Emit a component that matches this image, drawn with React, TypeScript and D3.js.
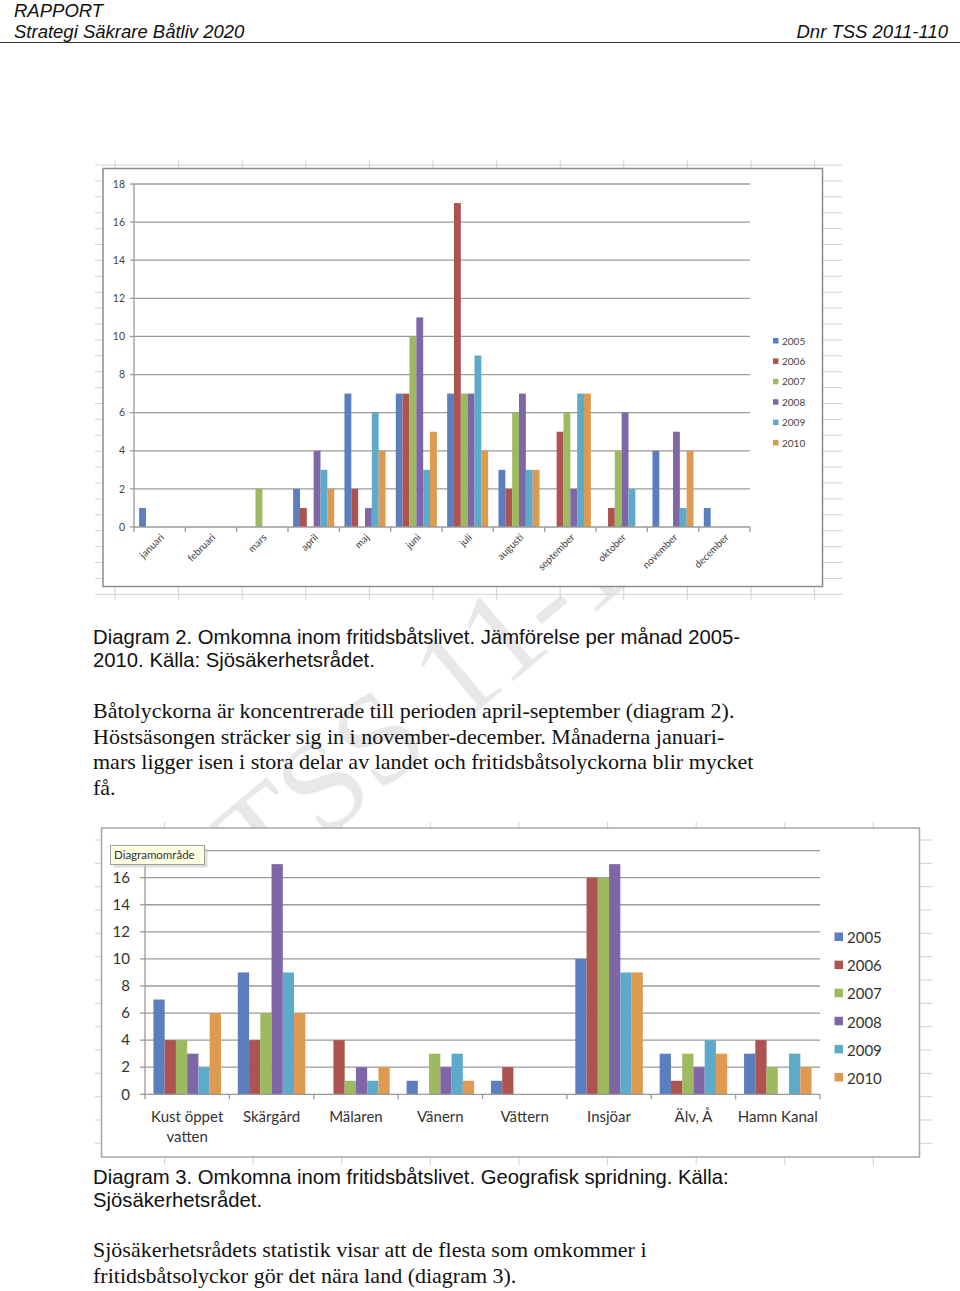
import React from 'react';
import * as d3 from 'd3';

// series shared by both charts
const years = ['2005', '2006', '2007', '2008', '2009', '2010'];
const yearColors = ['#5b7ebf', '#ad5450', '#9cba60', '#7f66a6', '#5eaacb', '#dd9a50'];

// Diagram 2 - per month
const months = ['januari', 'februari', 'mars', 'april', 'maj', 'juni', 'juli', 'augusti', 'september', 'oktober', 'november', 'december'];
const month2005 = [1, 0, 0, 2, 7, 7, 7, 3, 0, 0, 4, 1];
const month2006 = [0, 0, 0, 1, 2, 7, 17, 2, 5, 1, 0, 0];
const month2007 = [0, 0, 2, 0, 0, 10, 7, 6, 6, 4, 0, 0];
const month2008 = [0, 0, 0, 4, 1, 11, 7, 7, 2, 6, 5, 0];
const month2009 = [0, 0, 0, 3, 6, 3, 9, 3, 7, 2, 1, 0];
const month2010 = [0, 0, 0, 2, 4, 5, 4, 3, 7, 0, 4, 0];
const monthTicks = [0, 2, 4, 6, 8, 10, 12, 14, 16, 18];

// Diagram 3 - per area
const areas = ['Kust öppet vatten', 'Skärgård', 'Mälaren', 'Vänern', 'Vättern', 'Insjöar', 'Älv, Å', 'Hamn Kanal'];
const areaLabels = [['Kust öppet', 'vatten'], ['Skärgård'], ['Mälaren'], ['Vänern'], ['Vättern'], ['Insjöar'], ['Älv, Å'], ['Hamn Kanal']];
const area2005 = [7, 9, 0, 1, 1, 10, 3, 3];
const area2006 = [4, 4, 4, 0, 2, 16, 1, 4];
const area2007 = [4, 6, 1, 3, 0, 16, 3, 2];
const area2008 = [3, 17, 2, 2, 0, 17, 2, 0];
const area2009 = [2, 9, 1, 3, 0, 9, 4, 3];
const area2010 = [6, 6, 2, 1, 0, 9, 3, 2];
const areaTicks = [0, 2, 4, 6, 8, 10, 12, 14, 16];

const monthSeries = [month2005, month2006, month2007, month2008, month2009, month2010];
const areaSeries = [area2005, area2006, area2007, area2008, area2009, area2010];

const chartFont = 'Lato, "Open Sans", sans-serif';
const sansFont = '"Liberation Sans", Arial, sans-serif';
const serifFont = '"Liberation Serif", "Times New Roman", serif';
const gridColor = '#9a9a9a';

// faint spreadsheet cells around an embedded chart
function SheetGrid({ x0, y0, x1, y1, vx, hy }: { x0: number; y0: number; x1: number; y1: number; vx: number[]; hy: number[] }) {
  return (
    <g stroke="#d2d2d2" strokeWidth={1}>
      {vx
        .filter((x) => x >= x0 && x <= x1)
        .map((x) => (
          <line key={'v' + x} x1={x} x2={x} y1={y0} y2={y1} />
        ))}
      {hy
        .filter((y) => y >= y0 && y <= y1)
        .map((y) => (
          <line key={'h' + y} x1={x0} x2={x1} y1={y} y2={y} />
        ))}
    </g>
  );
}

const App: React.FC = () => {
  // ---- chart 1 scales
  const x1 = d3.scaleBand<string>().domain(months).range([134, 750]);
  const y1 = d3.scaleLinear().domain([0, 18]).range([527, 184]);
  const bw1 = x1.bandwidth();
  const inner1 = d3.scaleBand<string>().domain(years).range([bw1 * 0.1, bw1 * 0.9]);

  // ---- chart 2 scales
  const x2 = d3.scaleBand<string>().domain(areas).range([145, 820]);
  const y2 = d3.scaleLinear().domain([0, 18]).range([1094.3, 850.6]);
  const bw2 = x2.bandwidth();
  const inner2 = d3.scaleBand<string>().domain(years).range([bw2 * 0.1, bw2 * 0.9]);

  const wmStart: [number, number] = [262, 892];

  return (
    <svg width={960} height={1291} style={{ position: 'absolute', left: 0, top: 0, background: '#fff' }}>
      {/* header */}
      <g fontFamily={sansFont} fontStyle="italic" fontSize={18.5} fill="#111">
        <text x={14} y={17}>RAPPORT</text>
        <text x={14} y={38}>Strategi Säkrare Båtliv 2020</text>
        <text x={948} y={38} textAnchor="end">Dnr TSS 2011-110</text>
      </g>
      <line x1={0} x2={960} y1={42.5} y2={42.5} stroke="#333" strokeWidth={1} />

      {/* watermark */}
      <text
        x={wmStart[0]}
        y={wmStart[1]}
        transform={`rotate(-40 ${wmStart[0]} ${wmStart[1]})`}
        fontFamily={serifFont}
        fontSize={130}
        fill="#e8e8e8"
      >
        TSS 11-110
      </text>

      {/* ================= chart 1 ================= */}
      <SheetGrid x0={95} y0={160} x1={842} y1={600} vx={d3.range(115, 842, 63.6)} hy={d3.range(165, 600, 15.9)} />
      <rect x={103} y={168.5} width={719.5} height={418} fill="#fff" stroke="#8c8c8c" strokeWidth={1.5} />

      <g>
        {monthTicks.map((t) => (
          <g key={t}>
            {t > 0 && <line x1={134} x2={750} y1={y1(t)} y2={y1(t)} stroke={gridColor} strokeWidth={1.3} />}
            <line x1={130} x2={134} y1={y1(t)} y2={y1(t)} stroke={gridColor} strokeWidth={1.3} />
            <text x={125} y={y1(t)} dy="0.35em" textAnchor="end" fontFamily={chartFont} fontSize={10.5} fill="#444">
              {t}
            </text>
          </g>
        ))}
        <line x1={134} x2={134} y1={y1(18)} y2={y1(0)} stroke={gridColor} strokeWidth={1.3} />

        {months.map((m, i) => (
          <g key={m} transform={`translate(${x1(m)},0)`}>
            {monthSeries.map((s, k) =>
              s[i] > 0 ? (
                <rect
                  key={k}
                  x={inner1(years[k])}
                  y={y1(s[i])}
                  width={inner1.bandwidth()}
                  height={y1(0) - y1(s[i])}
                  fill={yearColors[k]}
                />
              ) : null
            )}
          </g>
        ))}

        <line x1={134} x2={750} y1={y1(0)} y2={y1(0)} stroke={gridColor} strokeWidth={1.3} />
        {[...months.map((m) => x1(m) as number), 750].map((x, i) => (
          <line key={i} x1={x} x2={x} y1={y1(0)} y2={y1(0) + 5} stroke={gridColor} strokeWidth={1.3} />
        ))}
        {months.map((m) => {
          const cx = (x1(m) as number) + bw1 / 2 + 5;
          return (
            <text
              key={m}
              transform={`translate(${cx},${y1(0) + 11}) rotate(-45)`}
              textAnchor="end"
              fontFamily={chartFont}
              fontSize={10}
              fill="#444"
            >
              {m}
            </text>
          );
        })}

        {years.map((yr, k) => (
          <g key={yr} transform={`translate(773,${341 + k * 20.4})`}>
            <rect x={0} y={-3} width={5.5} height={5.5} fill={yearColors[k]} />
            <text x={9} y={0} dy="0.35em" fontFamily={chartFont} fontSize={10} fill="#444">
              {yr}
            </text>
          </g>
        ))}
      </g>

      {/* caption + body */}
      <g fontFamily={sansFont} fontSize={20.3} fill="#111">
        <text x={93} y={644}>Diagram 2. Omkomna inom fritidsbåtslivet. Jämförelse per månad 2005-</text>
        <text x={93} y={667}>2010. Källa: Sjösäkerhetsrådet.</text>
      </g>
      <g fontFamily={serifFont} fontSize={22} fill="#111">
        <text x={93} y={718}>Båtolyckorna är koncentrerade till perioden april-september (diagram 2).</text>
        <text x={93} y={743.5}>Höstsäsongen sträcker sig in i november-december. Månaderna januari-</text>
        <text x={93} y={769}>mars ligger isen i stora delar av landet och fritidsbåtsolyckorna blir mycket</text>
        <text x={93} y={794.5}>få.</text>
      </g>

      {/* ================= chart 2 ================= */}
      <SheetGrid x0={95} y0={822} x1={932} y1={1165} vx={d3.range(76, 932, 88.6)} hy={d3.range(816.7, 1165, 23.33)} />
      <rect x={101.5} y={828} width={818} height={329} fill="#fff" stroke="#a6a6a6" strokeWidth={1.5} />

      <g>
        {[...areaTicks, 18].map((t) => (
          <g key={t}>
            {t > 0 && <line x1={145} x2={820} y1={y2(t)} y2={y2(t)} stroke={gridColor} strokeWidth={1.3} />}
            <line x1={140} x2={145} y1={y2(t)} y2={y2(t)} stroke={gridColor} strokeWidth={1.3} />
          </g>
        ))}
        {areaTicks.map((t) => (
          <text key={t} x={130} y={y2(t)} dy="0.35em" textAnchor="end" fontFamily={chartFont} fontSize={15} fill="#333">
            {t}
          </text>
        ))}
        <line x1={145} x2={145} y1={y2(18)} y2={y2(0)} stroke={gridColor} strokeWidth={1.3} />

        {areas.map((a, i) => (
          <g key={a} transform={`translate(${x2(a)},0)`}>
            {areaSeries.map((s, k) =>
              s[i] > 0 ? (
                <rect
                  key={k}
                  x={inner2(years[k])}
                  y={y2(s[i])}
                  width={inner2.bandwidth()}
                  height={y2(0) - y2(s[i])}
                  fill={yearColors[k]}
                />
              ) : null
            )}
          </g>
        ))}

        <line x1={145} x2={820} y1={y2(0)} y2={y2(0)} stroke={gridColor} strokeWidth={1.3} />
        {[...areas.map((a) => x2(a) as number), 820].map((x, i) => (
          <line key={i} x1={x} x2={x} y1={y2(0)} y2={y2(0) + 5} stroke={gridColor} strokeWidth={1.3} />
        ))}
        {areas.map((a, i) => (
          <text key={a} x={(x2(a) as number) + bw2 / 2} y={1122} textAnchor="middle" fontFamily={chartFont} fontSize={15} fill="#333">
            {areaLabels[i].map((ln, j) => (
              <tspan key={j} x={(x2(a) as number) + bw2 / 2} dy={j === 0 ? 0 : 20}>
                {ln}
              </tspan>
            ))}
          </text>
        ))}

        {years.map((yr, k) => (
          <g key={yr} transform={`translate(834.5,${938 + k * 28.1})`}>
            <rect x={0} y={-5.5} width={8.5} height={8.5} fill={yearColors[k]} />
            <text x={12.5} y={0} dy="0.35em" fontFamily={chartFont} fontSize={15} fill="#333">
              {yr}
            </text>
          </g>
        ))}

        {/* hover tooltip captured in the screenshot */}
        <rect x={113.5} y={848.5} width={94} height={19} fill="#c8c8c8" opacity={0.6} />
        <rect x={110.5} y={845.5} width={94} height={19} fill="#ffffe4" stroke="#a0a0a0" strokeWidth={1} />
        <text x={114} y={855} dy="0.35em" fontFamily={chartFont} fontSize={11.5} fill="#333">
          Diagramområde
        </text>
      </g>

      <g fontFamily={sansFont} fontSize={20.3} fill="#111">
        <text x={93} y={1184}>Diagram 3. Omkomna inom fritidsbåtslivet. Geografisk spridning. Källa:</text>
        <text x={93} y={1207}>Sjösäkerhetsrådet.</text>
      </g>
      <g fontFamily={serifFont} fontSize={22} fill="#111">
        <text x={93} y={1257}>Sjösäkerhetsrådets statistik visar att de flesta som omkommer i</text>
        <text x={93} y={1283}>fritidsbåtsolyckor gör det nära land (diagram 3).</text>
      </g>
    </svg>
  );
};

export default App;
